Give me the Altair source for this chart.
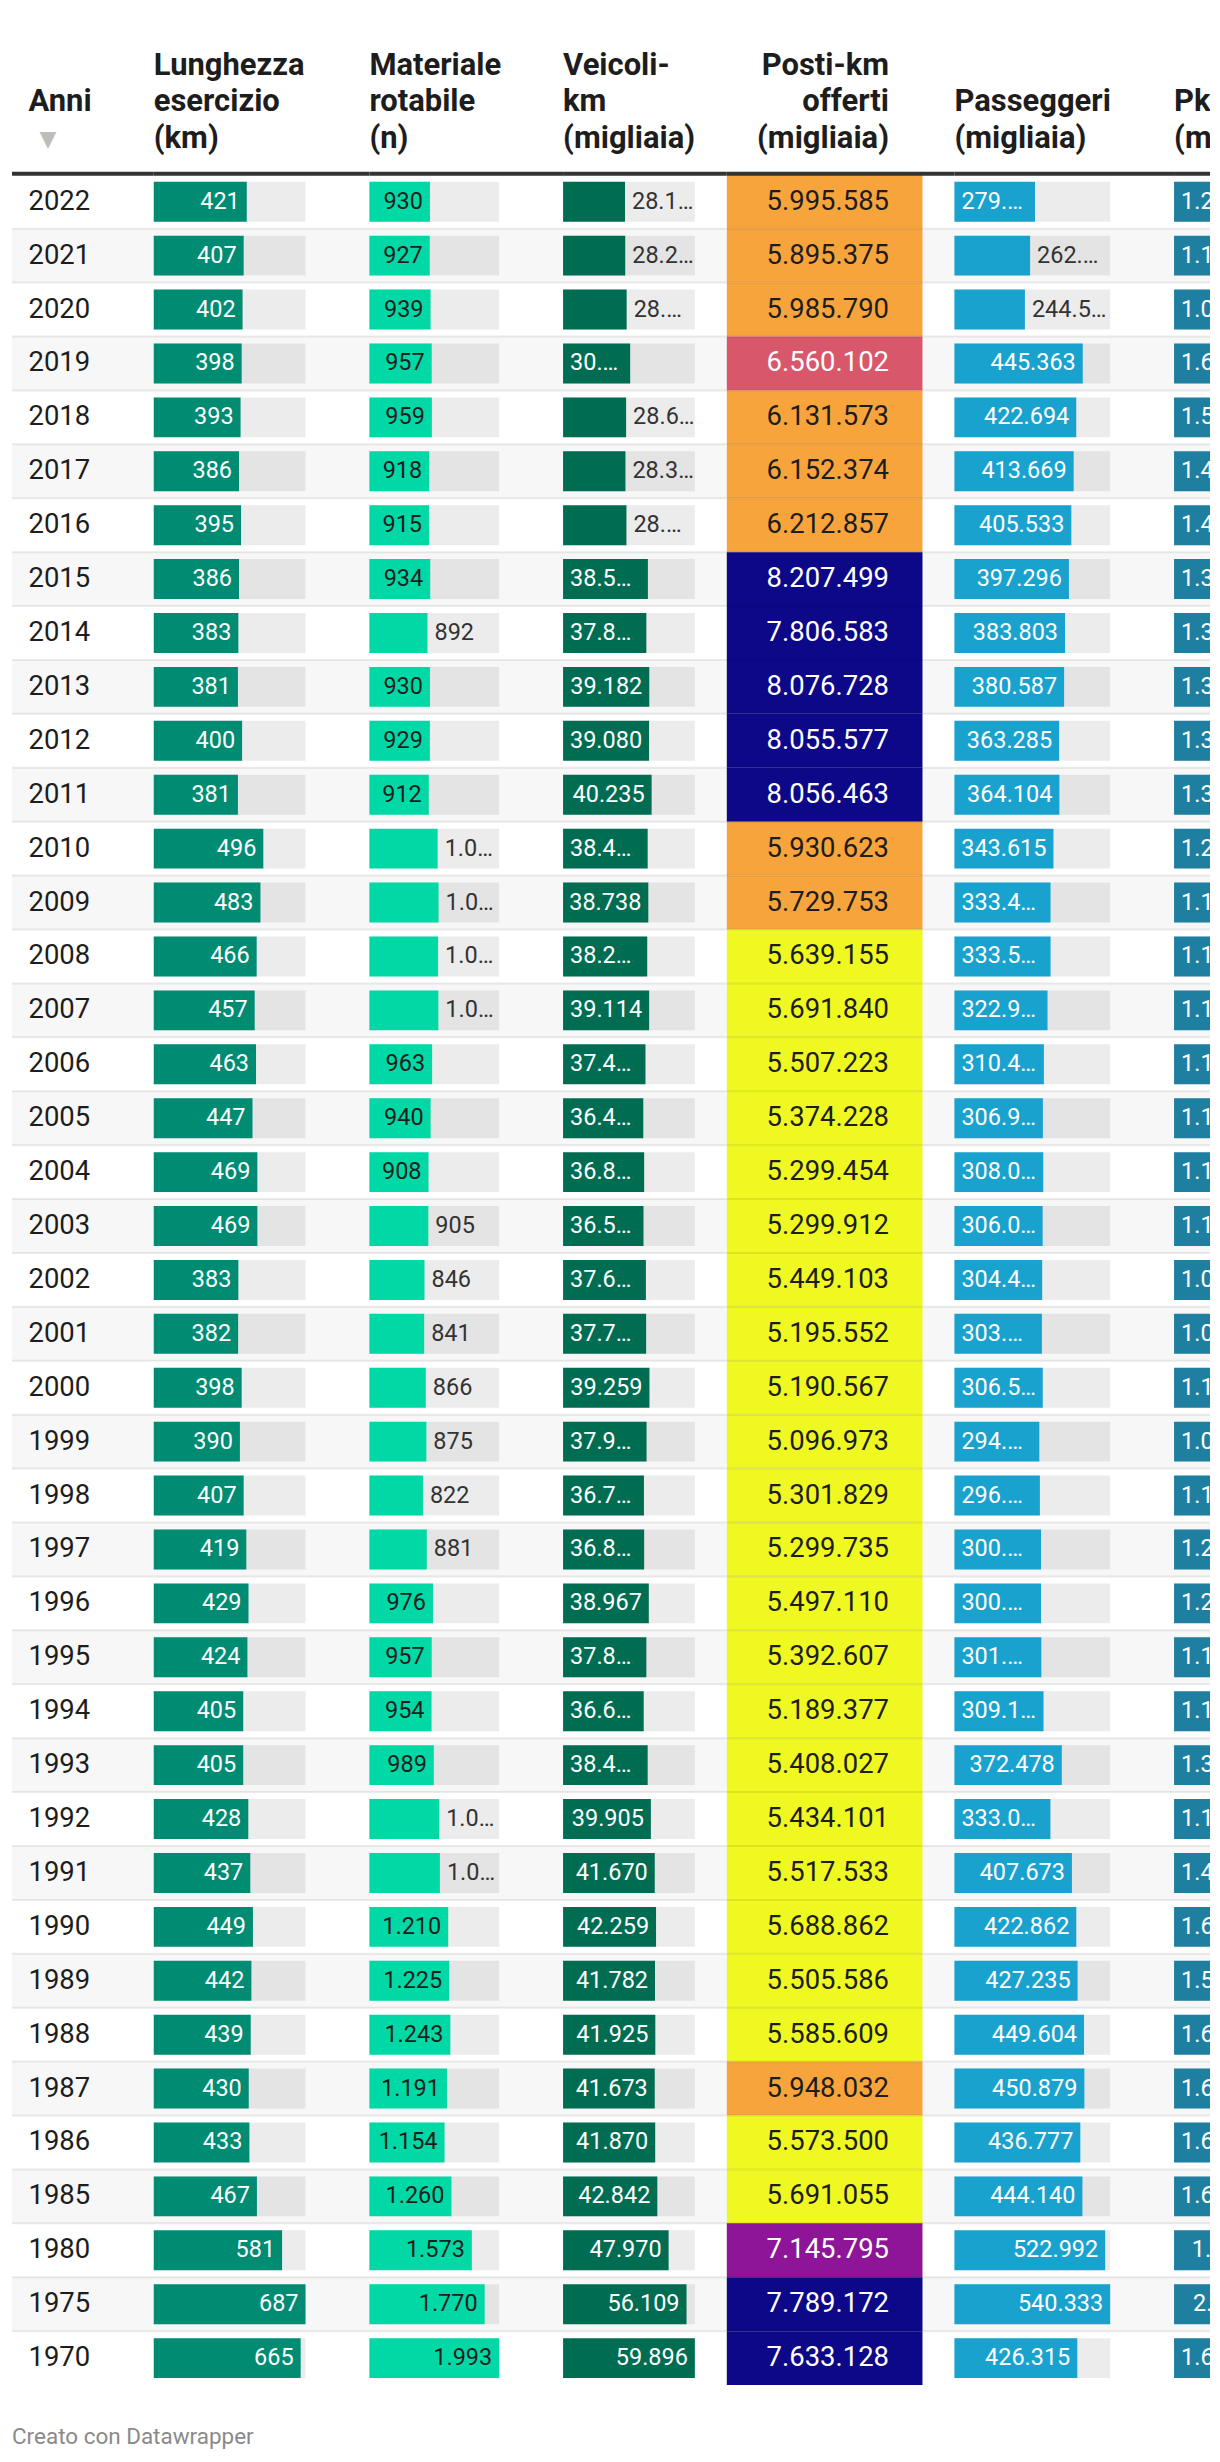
import altair as alt
import pandas as pd

# ---------------- data ----------------
years = [2022, 2021, 2020, 2019, 2018, 2017, 2016, 2015, 2014, 2013, 2012, 2011,
         2010, 2009, 2008, 2007, 2006, 2005, 2004, 2003, 2002, 2001, 2000, 1999,
         1998, 1997, 1996, 1995, 1994, 1993, 1992, 1991, 1990, 1989, 1988, 1987,
         1986, 1985, 1980, 1975, 1970]

lunghezza = [421, 407, 402, 398, 393, 386, 395, 386, 383, 381, 400, 381,
             496, 483, 466, 457, 463, 447, 469, 469, 383, 382, 398, 390,
             407, 419, 429, 424, 405, 405, 428, 437, 449, 442, 439, 430,
             433, 467, 581, 687, 665]

materiale = [930, 927, 939, 957, 959, 918, 915, 934, 892, 930, 929, 912,
             1048, 1062, 1055, 1059, 963, 940, 908, 905, 846, 841, 866, 875,
             822, 881, 976, 957, 954, 989, 1071, 1083, 1210, 1225, 1243, 1191,
             1154, 1260, 1573, 1770, 1993]
materiale_labels = ["930", "927", "939", "957", "959", "918", "915", "934", "892", "930", "929", "912",
                    "1.0…", "1.0…", "1.0…", "1.0…", "963", "940", "908", "905", "846", "841", "866", "875",
                    "822", "881", "976", "957", "954", "989", "1.0…", "1.0…", "1.210", "1.225", "1.243", "1.191",
                    "1.154", "1.260", "1.573", "1.770", "1.993"]
materiale_outside = [2014, 2010, 2009, 2008, 2007, 2003, 2002, 2001, 2000, 1999, 1998, 1997, 1992, 1991]

veicoli = [28150, 28250, 28900, 30500, 28650, 28350, 28800, 38550, 37850, 39182, 39080, 40235,
           38450, 38738, 38250, 39114, 37450, 36450, 36850, 36550, 37650, 37750, 39259, 37950,
           36750, 36850, 38967, 37850, 36650, 38450, 39905, 41670, 42259, 41782, 41925, 41673,
           41870, 42842, 47970, 56109, 59896]
veicoli_labels = ["28.1…", "28.2…", "28.…", "30.…", "28.6…", "28.3…", "28.…", "38.5…", "37.8…", "39.182", "39.080", "40.235",
                  "38.4…", "38.738", "38.2…", "39.114", "37.4…", "36.4…", "36.8…", "36.5…", "37.6…", "37.7…", "39.259", "37.9…",
                  "36.7…", "36.8…", "38.967", "37.8…", "36.6…", "38.4…", "39.905", "41.670", "42.259", "41.782", "41.925", "41.673",
                  "41.870", "42.842", "47.970", "56.109", "59.896"]
veicoli_outside = [2022, 2021, 2020, 2018, 2017, 2016]

posti = [5995585, 5895375, 5985790, 6560102, 6131573, 6152374, 6212857, 8207499, 7806583, 8076728, 8055577, 8056463,
         5930623, 5729753, 5639155, 5691840, 5507223, 5374228, 5299454, 5299912, 5449103, 5195552, 5190567, 5096973,
         5301829, 5299735, 5497110, 5392607, 5189377, 5408027, 5434101, 5517533, 5688862, 5505586, 5585609, 5948032,
         5573500, 5691055, 7145795, 7789172, 7633128]

passeggeri = [279500, 262500, 244550, 445363, 422694, 413669, 405533, 397296, 383803, 380587, 363285, 364104,
              343615, 333450, 333550, 322950, 310450, 306950, 308050, 306050, 304450, 303500, 306550, 294500,
              296500, 300500, 300500, 301500, 309150, 372478, 333050, 407673, 422862, 427235, 449604, 450879,
              436777, 444140, 522992, 540333, 426315]
passeggeri_labels = ["279.…", "262.…", "244.5…", "445.363", "422.694", "413.669", "405.533", "397.296", "383.803", "380.587", "363.285", "364.104",
                     "343.615", "333.4…", "333.5…", "322.9…", "310.4…", "306.9…", "308.0…", "306.0…", "304.4…", "303.…", "306.5…", "294.…",
                     "296.…", "300.…", "300.…", "301.…", "309.1…", "372.478", "333.0…", "407.673", "422.862", "427.235", "449.604", "450.879",
                     "436.777", "444.140", "522.992", "540.333", "426.315"]
passeggeri_outside = [2021, 2020]

pkm = [1230, 1150, 1080, 1640, 1560, 1470, 1440, 1390, 1340, 1330, 1310, 1300,
       1220, 1190, 1180, 1150, 1120, 1110, 1110, 1100, 1090, 1080, 1100, 1060,
       1120, 1210, 1230, 1150, 1140, 1360, 1170, 1450, 1640, 1560, 1660, 1670,
       1640, 1650, 1990, 2020, 1630]
pkm_labels = ["1.2…", "1.1…", "1.0…", "1.6…", "1.5…", "1.4…", "1.4…", "1.3…", "1.3…", "1.3…", "1.3…", "1.3…",
              "1.2…", "1.1…", "1.1…", "1.1…", "1.1…", "1.1…", "1.1…", "1.1…", "1.0…", "1.0…", "1.1…", "1.0…",
              "1.1…", "1.2…", "1.2…", "1.1…", "1.1…", "1.3…", "1.1…", "1.4…", "1.6…", "1.5…", "1.6…", "1.6…",
              "1.6…", "1.6…", "1.990", "2.020", "1.6…"]
pkm_outside = []

headers = {
    "anni": "Anni",
    "lung": "Lunghezza\nesercizio\n(km)",
    "mat": "Materiale\nrotabile\n(n)",
    "vei": "Veicoli-\nkm\n(migliaia)",
    "posti": "Posti-km\nofferti\n(migliaia)",
    "pass": "Passeggeri\n(migliaia)",
    "pkm": "Pkm\n(milioni)",
}
footer = "Creato con Datawrapper"

posti_colors = ["#f0f822", "#f8a43c", "#d8576b", "#8e1598", "#0d0887"]

# ---------------- layout / style ----------------
FONT = "Roboto"
ROW_TOP, ROW_BOTTOM = 165, 2379
PANEL_H = 2445
BAR_BAND = 40 / 54
LABEL_FS = 23.5
BODY_FS = 27.5
HEAD_FS = 31
HEAD_LH = 36.5
HEAD_LAST_BASELINE = 138
TEXT_DARK = "#1d1d1d"
OUT_DARK = "#333333"

year_str = [str(y) for y in years]
zebra = [i % 2 == 1 for i in range(len(years))]

ys = alt.Scale(domain=year_str, range=[ROW_TOP, ROW_BOTTOM], paddingInner=0, paddingOuter=0)


def Y(**kw):
    return alt.Y("anno:O", scale=ys, axis=None, **kw)


one = pd.DataFrame({"k": [0]})
frame_df = pd.DataFrame({"anno": year_str, "zebra": zebra})


def stripes():
    return (alt.Chart(frame_df).transform_filter("datum.zebra")
            .mark_rect(color="#f7f7f7")
            .encode(y=Y(), x=alt.value(0), x2=alt.value("width")))


def separators():
    return (alt.Chart(frame_df).transform_filter("datum.anno != '1970'")
            .mark_rule(color="black", opacity=0.08, strokeWidth=2)
            .encode(y=Y(bandPosition=1), x=alt.value(0), x2=alt.value("width")))


def head_rule():
    return (alt.Chart(one).mark_rule(color="#333333", strokeWidth=4)
            .encode(y=alt.value(164), x=alt.value(0), x2=alt.value("width")))


def head_text(text, x=0, align="left", last_baseline=HEAD_LAST_BASELINE, clip=False):
    n_lines = text.count("\n") + 1
    first_baseline = last_baseline - (n_lines - 1) * HEAD_LH
    return (alt.Chart(pd.DataFrame({"h": [text]}))
            .mark_text(font=FONT, fontSize=HEAD_FS, fontWeight="bold", align=align,
                       baseline="alphabetic", lineBreak="\n", lineHeight=HEAD_LH,
                       color=TEXT_DARK, clip=clip)
            .encode(text="h:N", x=alt.value(x), y=alt.value(first_baseline)))


def bar_panel(values, labels, outside, bar_color, in_color, bg_w, width, header, clip=False):
    vmax = max(values)
    rows = []
    for y, v, lab in zip(years, values, labels):
        if y in outside:
            mode = "out"
        elif lab.endswith("…"):
            mode = "trunc"
        else:
            mode = "in"
        rows.append({"anno": str(y), "v": v, "bg": vmax, "lab": lab, "mode": mode,
                     "anchor": 0 if mode == "trunc" else v})
    df = pd.DataFrame(rows)
    xs = alt.Scale(domain=[0, vmax], range=[0, bg_w], nice=False, zero=True)

    def X(f):
        return alt.X(f, scale=xs, axis=None)

    bg = (alt.Chart(df).mark_bar(color="black", opacity=0.075,
                                 height={"band": BAR_BAND}, clip=clip)
          .encode(x=X("bg:Q"), y=Y()))
    bar = (alt.Chart(df).mark_bar(color=bar_color, height={"band": BAR_BAND}, clip=clip)
           .encode(x=X("v:Q"), y=Y()))

    def labels_layer(mode, align, dx, color):
        return (alt.Chart(df).transform_filter(f"datum.mode == '{mode}'")
                .mark_text(align=align, dx=dx, font=FONT, fontSize=LABEL_FS,
                           baseline="middle", color=color, clip=clip)
                .encode(x=X("anchor:Q"), y=Y(), text="lab:N"))

    return alt.layer(stripes(), bg, bar,
                     labels_layer("in", "right", -7, in_color),
                     labels_layer("trunc", "left", 7, in_color),
                     labels_layer("out", "left", 7, OUT_DARK),
                     separators(), head_rule(),
                     head_text(header, clip=clip)).properties(width=width, height=PANEL_H)


# ---- Anni panel ----
anni_df = pd.DataFrame({"anno": year_str})
anni_text = (alt.Chart(anni_df).mark_text(font=FONT, fontSize=BODY_FS, align="left",
                                          baseline="middle", color=TEXT_DARK)
             .encode(x=alt.value(16.5), y=Y(), text="anno:N"))
triangle = (alt.Chart(pd.DataFrame({"t": ["▼"]}))
            .mark_text(font="DejaVu Sans", fontSize=22, align="center", baseline="middle",
                       color="#bdbdbd")
            .encode(text="t:N", x=alt.value(36), y=alt.value(129.5)))
foot = (alt.Chart(pd.DataFrame({"f": [footer]}))
        .mark_text(font=FONT, fontSize=22.5, align="left", baseline="alphabetic",
                   color="#8a8a8a")
        .encode(text="f:N", x=alt.value(0), y=alt.value(2438)))
anni_panel = alt.layer(stripes(), anni_text, separators(), head_rule(),
                       head_text(headers["anni"], x=16.5,
                                 last_baseline=HEAD_LAST_BASELINE - HEAD_LH),
                       triangle, foot).properties(width=142, height=PANEL_H)

# ---- Posti-km panel (stepped colour scale) ----
pmin, pmax = min(posti), max(posti)
step = (pmax - pmin) / len(posti_colors)
light_text_from = pmin + 2 * step


def it_fmt(n):
    return f"{n:,}".replace(",", ".")


posti_df = pd.DataFrame({
    "anno": year_str,
    "posti": posti,
    "lab": [it_fmt(v) for v in posti],
})
posti_cells = (alt.Chart(posti_df).mark_rect()
               .encode(y=Y(), x=alt.value(0), x2=alt.value(196),
                       color=alt.Color("posti:Q", legend=None,
                                       scale=alt.Scale(type="quantize", domain=[pmin, pmax],
                                                       range=posti_colors, nice=False, zero=False))))
posti_text_light = (alt.Chart(posti_df).transform_filter(f"datum.posti >= {light_text_from}")
                    .mark_text(font=FONT, fontSize=BODY_FS, align="right", baseline="middle",
                               color="#ffffff")
                    .encode(x=alt.value(162.5), y=Y(), text="lab:N"))
posti_text_dark = (alt.Chart(posti_df).transform_filter(f"datum.posti < {light_text_from}")
                   .mark_text(font=FONT, fontSize=BODY_FS, align="right", baseline="middle",
                              color=TEXT_DARK)
                   .encode(x=alt.value(162.5), y=Y(), text="lab:N"))
posti_panel = alt.layer(stripes(), posti_cells, posti_text_light, posti_text_dark,
                        separators(), head_rule(),
                        head_text(headers["posti"], x=162.5, align="right")
                        ).properties(width=228, height=PANEL_H)

lung_panel = bar_panel(lunghezza, [str(v) for v in lunghezza], [], "#008c73", "#ffffff",
                       152, 216, headers["lung"])
mat_panel = bar_panel(materiale, materiale_labels, materiale_outside, "#00d9a6", TEXT_DARK,
                      130, 194, headers["mat"])
vei_panel = bar_panel(veicoli, veicoli_labels, veicoli_outside, "#006d52", "#ffffff",
                      132, 164, headers["vei"])
pass_panel = bar_panel(passeggeri, passeggeri_labels, passeggeri_outside, "#1aa2cf", "#ffffff",
                       156, 220, headers["pass"])
pkm_panel = bar_panel(pkm, pkm_labels, pkm_outside, "#1f7fa0", "#ffffff",
                      85, 36, headers["pkm"], clip=True)

chart = (alt.hconcat(anni_panel, lung_panel, mat_panel, vei_panel, posti_panel, pass_panel,
                     pkm_panel, spacing=0, bounds="flush")
         .resolve_scale(x="independent", y="independent")
         .properties(padding={"left": 2, "top": 0, "right": 0, "bottom": 0}, background="white")
         .configure_view(stroke=None))

chart.save("out.html", embed_options={"renderer": "svg", "actions": False})
